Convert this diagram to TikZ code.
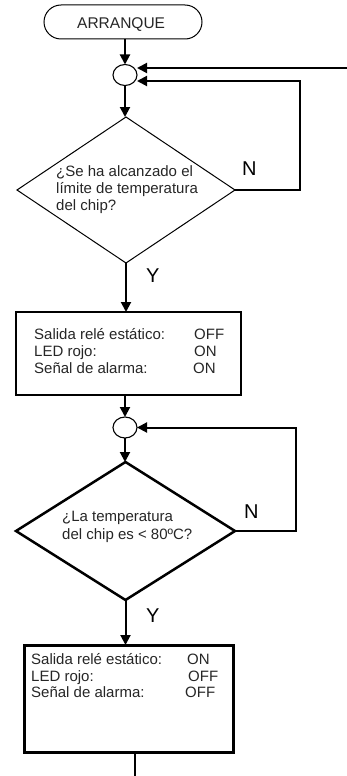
\documentclass[tikz,border=0pt]{standalone}
\usepackage{fontspec}
\setmainfont{Liberation Sans}
\usetikzlibrary{arrows.meta,shapes.geometric,calc}
\begin{document}
\begin{tikzpicture}[x=1pt,y=-1pt,
  txt/.style={anchor=base west,inner sep=0pt,text=black!85,font=\fontsize{15}{17}\selectfont},
  yn/.style={anchor=base west,inner sep=0pt,font=\fontsize{20}{22}\selectfont},
  arr/.style={line width=2pt,-{Triangle[length=10pt,width=10pt]}},
  ln/.style={line width=2pt},
  junc/.style={draw,ellipse,line width=1.1pt,minimum width=24pt,minimum height=21pt,inner sep=0pt,outer sep=0pt},
  dec/.style={draw,diamond,inner sep=0pt,outer sep=0pt},
  stepbox/.style={draw,rectangle,inner sep=0pt,outer sep=0pt}]
\useasboundingbox (0,0) rectangle (347,776);
% terminal
\node[draw,rounded corners=17pt,line width=1pt,minimum width=158pt,minimum height=34pt,inner sep=0pt,outer sep=0pt] (start) at (123,22) {};
\node[anchor=base west,inner sep=0pt,font=\fontsize{15.5}{17}\selectfont,text=black!85] (startt) at (77,29) {ARRANQUE};
% junction 1
\node[junc] (c1) at (125,75) {};
% decision 1
\node[dec,line width=1pt,minimum width=218pt,minimum height=146pt] (d1) at (126,190) {};
\node[txt] (d1a) at (56,176) {¿Se ha alcanzado el};
\node[txt] (d1b) at (56,193) {límite de temperatura};
\node[txt] (d1c) at (56,210) {del chip?};
\node[yn] (n1) at (242,175) {N};
\node[yn] (y1) at (146,282) {Y};
% box 1
\node[stepbox,line width=1.5pt,minimum width=225pt,minimum height=83pt] (b1) at (128.5,353.5) {};
\node[txt] (b1a) at (34,339) {Salida relé estático:};
\node[txt] (b1b) at (34,356) {LED rojo:};
\node[txt] (b1c) at (34,373) {Señal de alarma:};
\node[txt] (b1d) at (194,339) {OFF};
\node[txt] (b1e) at (194,356) {ON};
\node[txt] (b1f) at (193,373) {ON};
% junction 2
\node[junc] (c2) at (125,427.5) {};
% decision 2
\node[dec,line width=2.5pt,minimum width=219pt,minimum height=138pt] (d2) at (125.5,531) {};
\node[txt] (d2a) at (62,521) {¿La temperatura};
\node[txt] (d2b) at (62,539) {del chip es < 80ºC?};
\node[yn] (n2) at (244,518) {N};
\node[yn] (y2) at (146,622) {Y};
% box 2
\node[stepbox,line width=3pt,minimum width=209pt,minimum height=107pt] (b2) at (128.5,698.5) {};
\node[txt] (b2a) at (31,664) {Salida relé estático:};
\node[txt] (b2b) at (31,681) {LED rojo:};
\node[txt] (b2c) at (31,697) {Señal de alarma:};
\node[txt] (b2d) at (187,664) {ON};
\node[txt] (b2e) at (188,681) {OFF};
\node[txt] (b2f) at (185,697) {OFF};
% connectors
\draw[arr] (start.south -| c1) -- (c1.north);
\draw[arr] (c1.south) -- (d1.north -| c1);
\coordinate (in1) at (347,68);
\draw[arr] (in1) -- (in1 -| c1.east);
\coordinate (lp1) at (300,81);
\draw[arr] (d1.east) -| (lp1) -- (lp1 -| c1.east);
\draw[arr] (d1.south) -- (b1.north -| d1.south);
\draw[arr] (b1.south -| c2) -- (c2.north);
\draw[arr] (c2.south) -- (d2.north -| c2);
\coordinate (lp2) at (296,427.5);
\draw[arr] (d2.east) -| (lp2) -- (c2.east);
\draw[arr] (d2.south) -- (b2.north -| d2.south);
\coordinate (out) at (135,776);
\draw[ln] (b2.south -| out) -- (out);
\end{tikzpicture}
\end{document}
